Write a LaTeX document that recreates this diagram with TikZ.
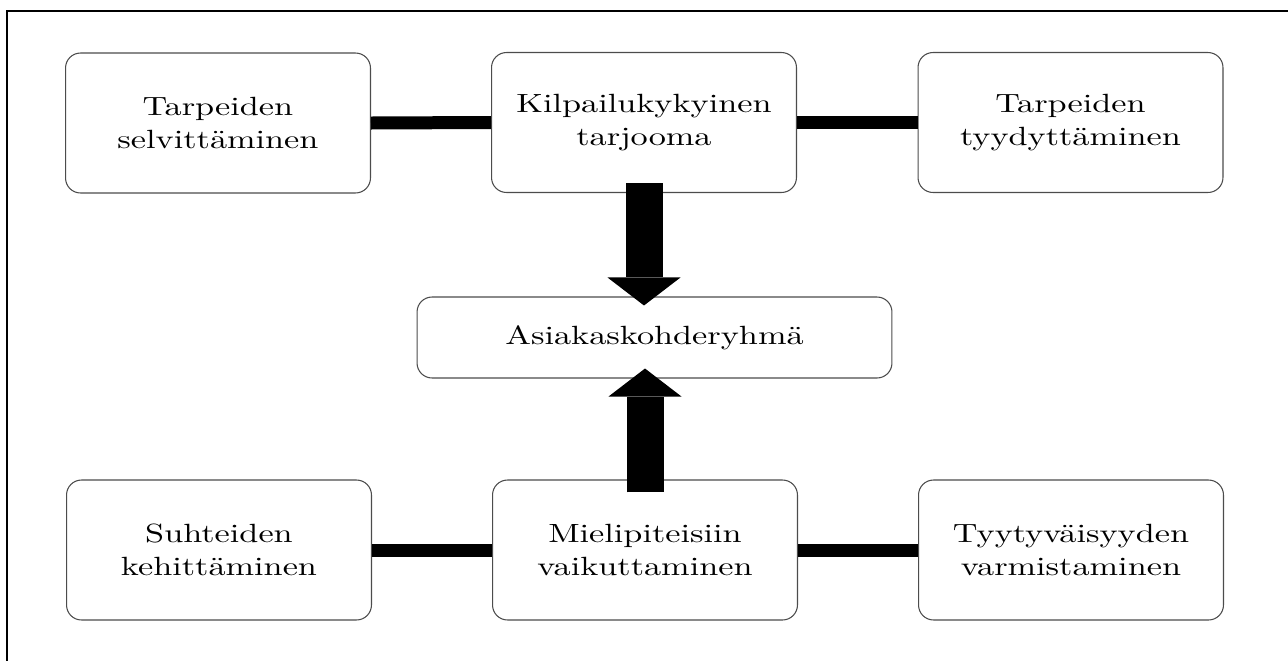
\documentclass[tikz,border=0pt]{standalone}
\usepackage{amsmath}
\usepackage{amssymb}
\usepackage{fontspec}
\usepackage{tikz}
\usetikzlibrary{arrows.meta}
\newfontfamily\boxfont{lmroman10-regular.otf}[FakeStretch=1.3]

\begin{document}
\begin{tikzpicture}[x=0.02cm,y=-0.02cm,
  box/.style={draw=black!70,line width=0.6pt,rounded corners=0.3cm,fill=white,align=center,
    minimum width=6.1cm,minimum height=2.8cm,font=\boxfont\fontsize{15}{18.8}\selectfont},
  link/.style={line width=0.26cm},
  bigarrow/.style={line width=0.74cm,-{Triangle[width=1.46cm,length=0.56cm,line width=0pt]}}]
\useasboundingbox (0,0) rectangle (1288,660) ;
\draw[line width=0.9pt] (7,662) -- (7,11) -- (1290,11) ;
\node[box] (tl) at (218,123) {Tarpeiden\\selvittäminen} ;
\node[box] (tm) at (644,122.5) {Kilpailukykyinen\\tarjooma} ;
\node[box] (tr) at (1070.5,122.5) {Tarpeiden\\tyydyttäminen} ;
\node[box,minimum width=9.5cm,minimum height=1.62cm] (ctr) at (654.5,337.5) {Asiakaskohderyhmä} ;
\node[box] (bl) at (219,550) {Suhteiden\\kehittäminen} ;
\node[box] (bm) at (645,550) {Mielipiteisiin\\vaikuttaminen} ;
\node[box] (br) at (1071,550) {Tyytyväisyyden\\varmistaminen} ;
\draw[link] (tl.east) -- (tm.west) ;
\draw[link] (tm.east) -- (tr.west) ;
\draw[link] (bl.east) -- (bm.west) ;
\draw[link] (bm.east) -- (br.west) ;
\draw[bigarrow] ([yshift=0.2cm]tm.south) -- ([yshift=-0.18cm]tm.south |- ctr.north) ;
\draw[bigarrow] ([yshift=-0.26cm]bm.north) -- ([yshift=0.2cm]bm.north |- ctr.south) ;
\end{tikzpicture}
\end{document}
